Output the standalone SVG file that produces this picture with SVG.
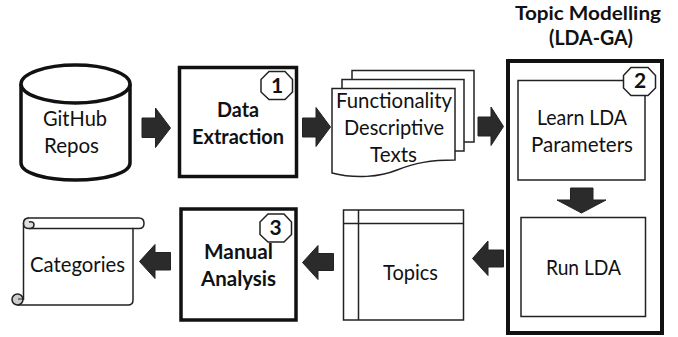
<svg xmlns="http://www.w3.org/2000/svg" width="678" height="337" viewBox="0 0 678 337">
<style>
text{font-family:Lato,"Open Sans",sans-serif;font-size:21px;fill:#111;text-anchor:middle}
.b{font-weight:700}
.t{font-size:19.5px}
.thick{fill:#fff;stroke:#111;stroke-width:3.5}
.thin{fill:#fff;stroke:#222;stroke-width:1.5}
.oct{fill:#fff;stroke:#222;stroke-width:1.5}
.arr{fill:#2b2b2b;stroke:#222;stroke-width:1}
</style>
<rect width="678" height="337" fill="#fff"/>
<g id="connectors">
<polygon class="arr" points="142,118 155.500,118 155.500,108 170.500,128 155.500,147.500 155.500,137.500 142,137.500"/>
<polygon class="arr" points="302.500,118 316,118 316,107.500 330.500,127 316,146.500 316,137 302.500,137"/>
<polygon class="arr" points="478,117 491,117 491,107 503.500,126.500 491,145.500 491,136 478,136"/>
<polygon class="arr" points="570.500,188 593,188 593,200 606,200 581.500,213 557,200 570.500,200"/>
<polygon class="arr" points="503.500,250 488,250 488,241 472.500,258.500 488,275.500 488,267 503.500,267"/>
<polygon class="arr" points="333.500,253.500 318,253.500 318,245.500 302.500,262.500 318,279.500 318,270.500 333.500,270.500"/>
<polygon class="arr" points="170.500,252.500 155,252.500 155,244.500 139.500,261.500 155,278.500 155,270 170.500,270"/>
</g>
<g id="github-repos">
<path class="thick" d="M21 84V163C21 173 45 180 75.500 180S130 173 130 163V84"/>
<ellipse class="thick" cx="75.500" cy="84" rx="54.500" ry="19"/>
<text x="75" y="126" textLength="64" lengthAdjust="spacingAndGlyphs">GitHub</text>
<text x="71.500" y="153" textLength="55" lengthAdjust="spacingAndGlyphs">Repos</text>
</g>
<g id="data-extraction">
<rect class="thick" x="179.500" y="67.500" width="117" height="109"/>
<polygon class="oct" points="269,71.500 285,71.500 292.500,79.500 292.500,92 285,99.500 269,99.500 261,92 261,79.500"/>
<text class="b" x="277" y="93">1</text>
<text class="b" x="238" y="117" textLength="42" lengthAdjust="spacingAndGlyphs">Data</text>
<text class="b" x="238" y="144" textLength="92" lengthAdjust="spacingAndGlyphs">Extraction</text>
</g>
<g id="functionality-texts">
<rect class="thin" x="352" y="70.500" width="122" height="71.500"/>
<rect class="thin" x="342" y="79.500" width="122" height="71.500"/>
<path class="thin" d="M332 88.500H455V160C430 160 415 163 397 170C380 177 355 179 332 173Z"/>
<text x="394" y="108" textLength="116" lengthAdjust="spacingAndGlyphs">Functionality</text>
<text x="394" y="135" textLength="100" lengthAdjust="spacingAndGlyphs">Descriptive</text>
<text x="393.500" y="162" textLength="47" lengthAdjust="spacingAndGlyphs">Texts</text>
</g>
<g id="topic-modelling">
<text class="b t" x="588" y="19.500" textLength="146" lengthAdjust="spacingAndGlyphs">Topic Modelling</text>
<text class="b" x="591" y="45" textLength="84" lengthAdjust="spacingAndGlyphs">(LDA-GA)</text>
<rect x="508" y="61" width="154" height="272" fill="none" stroke="#111" stroke-width="4"/>
</g>
<g id="learn-lda">
<rect class="thin" x="518" y="80.500" width="127" height="99.500"/>
<polygon class="oct" points="631,67.500 648,67.500 655.500,75.500 655.500,88 648,95.500 631,95.500 623.500,88 623.500,75.500"/>
<text class="b" x="640" y="88">2</text>
<text x="582" y="125" textLength="90" lengthAdjust="spacingAndGlyphs">Learn LDA</text>
<text x="582" y="152" textLength="102" lengthAdjust="spacingAndGlyphs">Parameters</text>
</g>
<g id="run-lda">
<rect class="thin" x="521" y="217.500" width="124.500" height="99"/>
<text x="583.500" y="275" textLength="75" lengthAdjust="spacingAndGlyphs">Run LDA</text>
</g>
<g id="topics">
<rect class="thin" x="343.500" y="210" width="120" height="110"/>
<path class="thin" fill="none" d="M358.500 210V320M343.500 223.500H463.500"/>
<text x="410.500" y="280" textLength="55" lengthAdjust="spacingAndGlyphs">Topics</text>
</g>
<g id="manual-analysis">
<rect class="thick" x="181" y="209" width="115" height="111"/>
<polygon class="oct" points="268,214 284,214 291.500,222 291.500,234.500 284,242 268,242 260,234.500 260,222"/>
<text class="b" x="275.500" y="235">3</text>
<text class="b" x="238.500" y="259" textLength="69" lengthAdjust="spacingAndGlyphs">Manual</text>
<text class="b" x="238.500" y="286" textLength="75" lengthAdjust="spacingAndGlyphs">Analysis</text>
</g>
<g id="categories">
<path class="thin" d="M23.500 300V223C23.500 220 26 218 29 218H139C142 218 144 220 144 223.500S142 228.500 139 228.500H133V300C133 303 131 305 128 305H17"/>
<path class="thin" fill="none" d="M29 228.500H133"/>
<path d="M29 218C25 218 23.500 220 23.500 223.500S25 228.500 29 228.500C32.500 228.500 34 226.500 34 224.500C34 222.500 32 221 29 222" fill="#ddd" stroke="#222" stroke-width="1.500"/>
<circle cx="17.500" cy="299.500" r="5.500" fill="#ccc" stroke="#222" stroke-width="1.500"/>
<path d="M18 299H23.500V295" fill="none" stroke="#222" stroke-width="1"/>
<text x="77.500" y="272" textLength="95" lengthAdjust="spacingAndGlyphs">Categories</text>
</g>
</svg>
